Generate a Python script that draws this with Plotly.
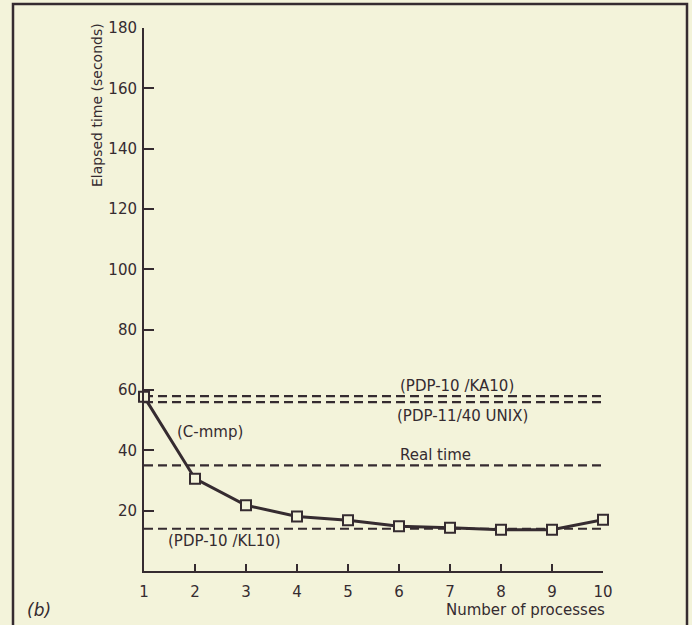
import plotly.graph_objects as go

# Data
processes = [1, 2, 3, 4, 5, 6, 7, 8, 9, 10]
cmmp_time = [57.8, 30.6, 21.8, 18.1, 16.8, 14.8, 14.3, 13.7, 13.7, 17.0]

ref_names = ["(PDP-10 /KA10)", "(PDP-11/40 UNIX)", "Real time", "(PDP-10 /KL10)"]
ref_values = [58, 56, 35, 14]
ref_label_x = [7.14, 7.24, 6.71, 2.58]
ref_label_y = [61.4, 51.5, 38.6, 9.9]

y_ticks = [20, 40, 60, 80, 100, 120, 140, 160, 180]
x_ticks = processes

BG = "#f3f3da"
INK = "#352b30"
FONT = "DejaVu Sans, Verdana, sans-serif"

W, H = 692, 625
ML, MR, MT, MB = 144, 89, 28, 54
pw = W - ML - MR
ph = H - MT - MB


def px_to_paper_x(px):
    return (px - ML) / pw


def px_to_paper_y(py):
    return (H - MB - py) / ph


fig = go.Figure()

# reference dashed lines
for v in ref_values:
    fig.add_trace(go.Scatter(
        x=[processes[0], processes[-1]], y=[v, v], mode="lines",
        line=dict(color=INK, width=2.2, dash="9px,5px"),
        hoverinfo="skip", showlegend=False, cliponaxis=False))

# C-mmp curve
fig.add_trace(go.Scatter(
    x=processes, y=cmmp_time, mode="lines+markers",
    line=dict(color=INK, width=3),
    marker=dict(symbol="square", size=10, color=BG,
                line=dict(color=INK, width=2)),
    showlegend=False, cliponaxis=False))

LBL = dict(size=15, color=INK, family=FONT)

annotations = []
for name, lx, ly in zip(ref_names, ref_label_x, ref_label_y):
    annotations.append(dict(x=lx, y=ly, xref="x", yref="y", text=name,
                            showarrow=False, font=LBL))
annotations.append(dict(x=2.30, y=46.2, xref="x", yref="y", text="(C-mmp)",
                        showarrow=False, font=LBL))
annotations.append(dict(x=px_to_paper_x(607), y=px_to_paper_y(610), xref="paper", yref="paper",
                        text="Number of processes", showarrow=False, xanchor="right",
                        yanchor="middle", font=LBL))
annotations.append(dict(x=px_to_paper_x(97), y=px_to_paper_y(105), xref="paper", yref="paper",
                        text="Elapsed time (seconds)", showarrow=False, textangle=-90,
                        xanchor="center", yanchor="middle", font=dict(size=14, color=INK, family=FONT)))
annotations.append(dict(x=px_to_paper_x(25), y=px_to_paper_y(610), xref="paper", yref="paper",
                        text="<i>(b)</i>", showarrow=False, xanchor="left", yanchor="middle",
                        font=dict(size=17, color=INK, family=FONT)))

shapes = [dict(type="path", xref="paper", yref="paper",
               path=(f"M {px_to_paper_x(13)},{px_to_paper_y(640)} "
                     f"L {px_to_paper_x(13)},{px_to_paper_y(4)} "
                     f"L {px_to_paper_x(687)},{px_to_paper_y(4)} "
                     f"L {px_to_paper_x(687)},{px_to_paper_y(640)}"),
               line=dict(color=INK, width=2.5))]

fig.update_layout(
    width=W, height=H,
    margin=dict(l=ML, r=MR, t=MT, b=MB),
    paper_bgcolor=BG, plot_bgcolor=BG,
    font=dict(family=FONT, color=INK, size=15),
    annotations=annotations, shapes=shapes,
    xaxis=dict(range=[1, 10], tickvals=x_ticks, ticktext=[str(t) for t in x_ticks],
               showgrid=False, zeroline=False, showline=True, linecolor=INK, linewidth=2,
               ticks="inside", ticklen=7, tickwidth=2, tickcolor=INK,
               ticklabelstandoff=6,
               tickfont=dict(size=15, color=INK, family=FONT)),
    yaxis=dict(range=[0, 180], tickvals=y_ticks, ticktext=[str(t) for t in y_ticks],
               showgrid=False, zeroline=False, showline=True, linecolor=INK, linewidth=2,
               ticks="inside", ticklen=10, tickwidth=2, tickcolor=INK,
               ticklabelstandoff=2,
               tickfont=dict(size=15, color=INK, family=FONT)),
)

fig.write_html("out.html")
